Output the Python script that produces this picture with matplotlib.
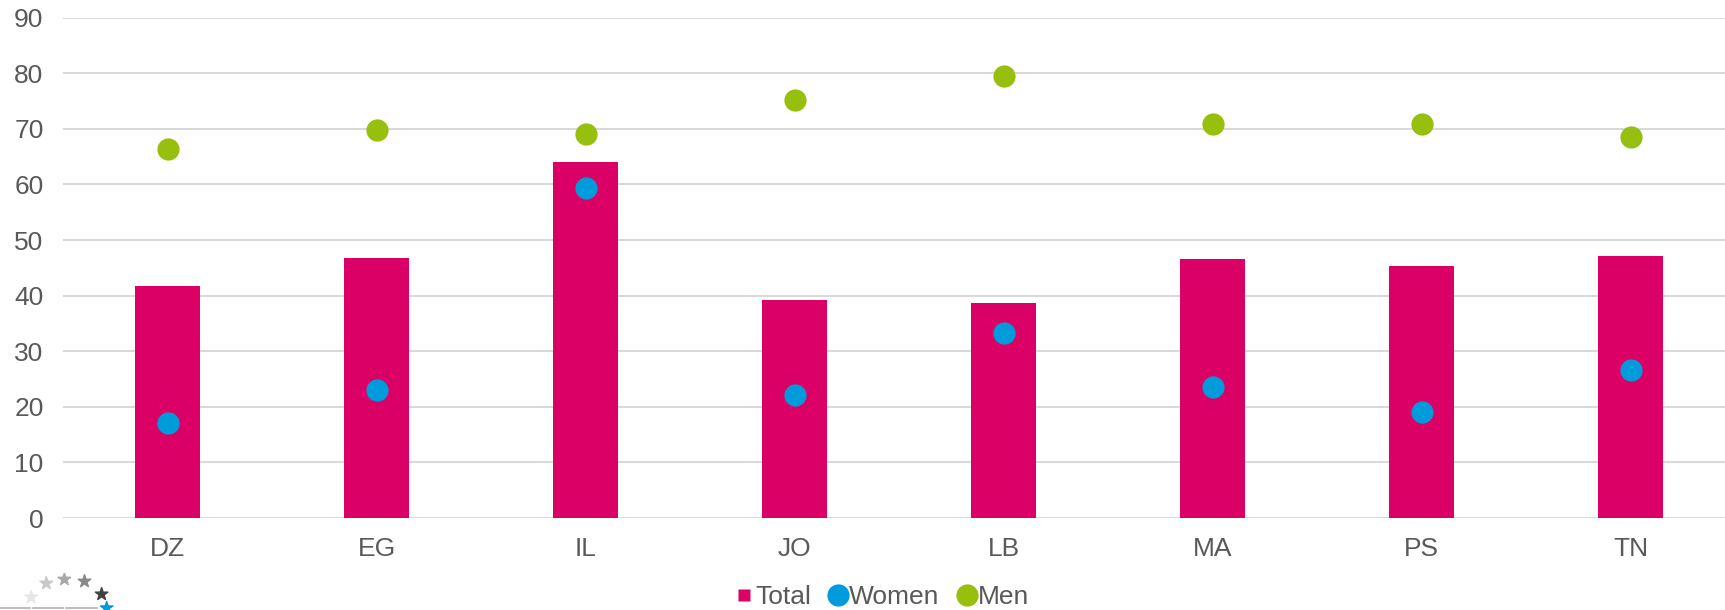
import matplotlib.pyplot as plt
import numpy as np

plt.rcParams['font.family'] = ['Liberation Sans', 'DejaVu Sans']

countries = ["DZ", "EG", "IL", "JO", "LB", "MA", "PS", "TN"]
total = [41.8, 46.7, 64.0, 39.2, 38.7, 46.5, 45.3, 47.2]
women = [17.0, 23.0, 59.4, 22.1, 33.3, 23.6, 19.0, 26.7]
men = [66.3, 69.7, 69.1, 75.1, 79.5, 70.9, 70.9, 68.5]

pink = "#DB0066"
blue = "#009BDA"
green = "#97BF0D"
grey_text = "#595959"

fig = plt.figure(figsize=(17.25, 6.1), dpi=100)
ax = fig.add_axes([63 / 1725, 1 - 518 / 610, 1672 / 1725, (518 - 17.6) / 610])

x = np.arange(len(countries))
ax.bar(x, total, width=0.315, color=pink, zorder=2, label="Total")
ax.plot(x, women, "o", color=blue, ms=16, mec="none", zorder=3, label="Women")
ax.plot(x, men, "o", color=green, ms=16, mec="none", zorder=3, label="Men")

ax.set_xlim(-0.5, len(countries) - 0.5)
ax.set_ylim(0, 90)
ax.set_yticks(range(0, 91, 10))
ax.set_xticks(x)
ax.set_xticklabels(countries)
ax.grid(axis="y", color="#D9D9D9", lw=1.5, zorder=0)
ax.set_axisbelow(True)
for s in ax.spines.values():
    s.set_visible(False)
ax.tick_params(axis="both", length=0, labelsize=19, colors=grey_text)
ax.tick_params(axis="y", pad=14)
ax.tick_params(axis="x", pad=14)

# legend at the bottom
h_total = plt.Line2D([], [], marker="s", ls="none", color=pink, ms=9, mec="none")
h_women = plt.Line2D([], [], marker="o", ls="none", color=blue, ms=16, mec="none")
h_men = plt.Line2D([], [], marker="o", ls="none", color=green, ms=16, mec="none")
fig.legend([h_total, h_women, h_men], ["Total", "Women", "Men"],
           loc="center", bbox_to_anchor=(882 / 1725, 1 - 597 / 610), ncol=3,
           frameon=False, fontsize=19, handlelength=0.7, handletextpad=0.05,
           columnspacing=0.7, labelcolor=grey_text, borderpad=0)

# little star logo in the bottom-left corner
lax = fig.add_axes([0, 0, 0.07, 0.06])
lax.set_xlim(0, 120)
lax.set_ylim(610, 573)
lax.axis("off")
star_x = [31, 46, 64, 84, 101, 106]
star_y = [597, 583, 579, 581, 594, 608]
star_c = ["#E6E6E6", "#C8C8C8", "#A8A8A8", "#888888", "#404040", blue]
lax.scatter(star_x, star_y, marker="*", s=90, c=star_c, zorder=3)
lax.plot([0, 30], [608, 608], color="#B0B0B0", lw=1.2)
lax.plot([33, 63], [608, 608], color="#B0B0B0", lw=1.2)
lax.plot([66, 96], [608, 608], color="#B0B0B0", lw=1.2)

plt.savefig("out.png", dpi=100)
